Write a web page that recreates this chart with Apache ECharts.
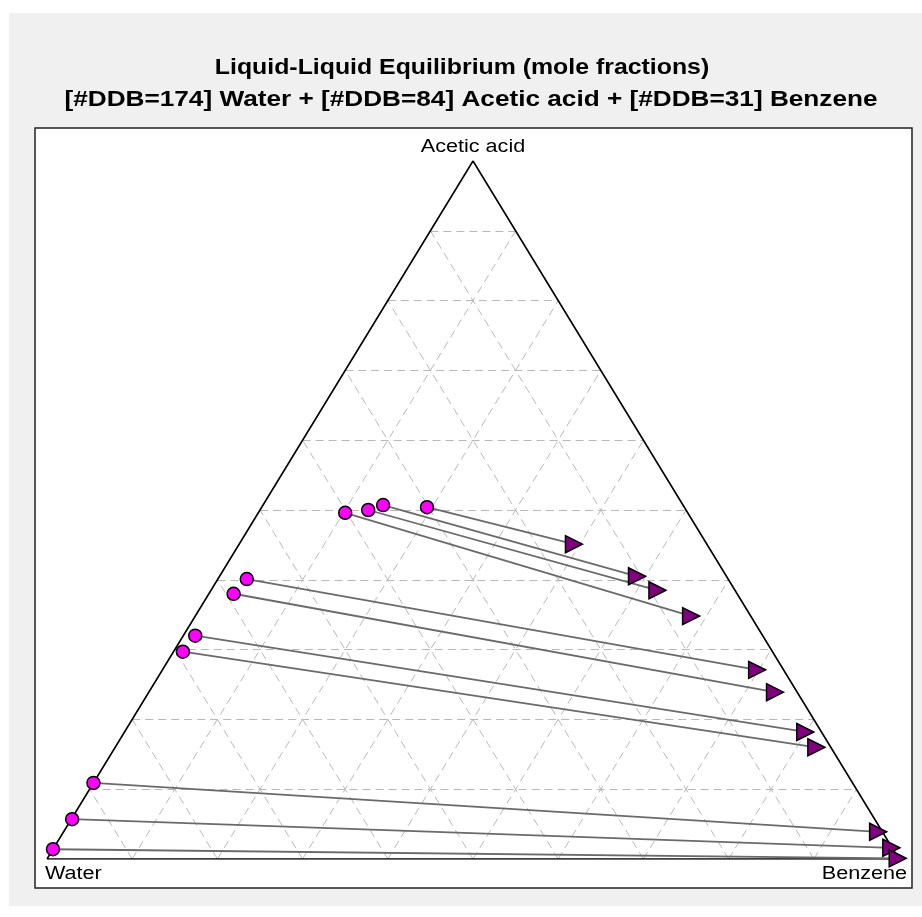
<!DOCTYPE html>
<html>
<head>
<meta charset="utf-8">
<script src="https://cdn.jsdelivr.net/npm/echarts@6/dist/echarts.min.js"></script>
<style>
  html, body { margin: 0; padding: 0; background: #ffffff; }
  #chart { width: 922px; height: 917px; }
</style>
</head>
<body>
<div id="chart"></div>
<script>
// Title lines and component names at the triangle corners
const titleLines = [
  'Liquid-Liquid Equilibrium (mole fractions)',
  '[#DDB=174] Water + [#DDB=84] Acetic acid + [#DDB=31] Benzene'
];
const componentNames = ['Water', 'Acetic acid', 'Benzene'];

// Water-rich phase (mole fractions of acetic acid and benzene)
const aqAcid    = [0.496, 0.500, 0.507, 0.504, 0.401, 0.380, 0.320, 0.297, 0.109, 0.057, 0.014];
const aqBenzene = [0.102, 0.127, 0.141, 0.194, 0.034, 0.029, 0.014, 0.011, 0.000, 0.001, 0.000];

// Benzene-rich phase (mole fractions of acetic acid and benzene)
const orgAcid    = [0.348, 0.385, 0.405, 0.451, 0.271, 0.239, 0.182, 0.160, 0.039, 0.016, 0.001];
const orgBenzene = [0.582, 0.524, 0.490, 0.393, 0.698, 0.735, 0.799, 0.823, 0.956, 0.983, 0.998];

// Grid fractions drawn inside the triangle
const gridFractions = [0.1, 0.2, 0.3, 0.4, 0.5, 0.6, 0.7, 0.8, 0.9];

// Ternary -> cartesian (Water at origin, Benzene at x=1, Acetic acid at apex)
function toXY(acid, benzene) {
  return [benzene + acid / 2, acid];
}

// Dashed grid lines parallel to each side
const gridSegments = [];
gridFractions.forEach(function (f) {
  // constant acetic acid
  gridSegments.push({ coords: [toXY(f, 0), toXY(f, 1 - f)] });
  // constant benzene
  gridSegments.push({ coords: [toXY(0, f), toXY(1 - f, f)] });
  // constant water
  gridSegments.push({ coords: [toXY(0, 1 - f), toXY(1 - f, 0)] });
});

const outline = [toXY(0, 0), toXY(0, 1), toXY(1, 0), toXY(0, 0)];

const tieLines = aqAcid.map(function (a, i) {
  return { coords: [toXY(a, aqBenzene[i]), toXY(orgAcid[i], orgBenzene[i])] };
});
const aqPoints = aqAcid.map(function (a, i) { return toXY(a, aqBenzene[i]); });
const orgPoints = orgAcid.map(function (a, i) { return toXY(a, orgBenzene[i]); });

const chart = echarts.init(document.getElementById('chart'), null, { renderer: 'canvas' });

const labelFont = '18px "Liberation Sans", Arial, sans-serif';
const titleFont = 'bold 22px "Liberation Sans", Arial, sans-serif';

chart.setOption({
  animation: false,
  backgroundColor: '#ffffff',
  graphic: [
    { type: 'rect', z: -20, shape: { x: 9, y: 13, width: 913, height: 893 }, style: { fill: '#f0f0f0' }, silent: true },
    { type: 'rect', z: -19, shape: { x: 35, y: 128, width: 877, height: 760 }, style: { fill: '#ffffff', stroke: '#202020', lineWidth: 1.5 }, silent: true },
    { type: 'text', z: 10, x: 462, y: 68, scaleX: 1.13, style: { text: titleLines[0], font: titleFont, fill: '#000', textAlign: 'center', textVerticalAlign: 'middle' } },
    { type: 'text', z: 10, x: 471, y: 100, scaleX: 1.19, style: { text: titleLines[1], font: titleFont, fill: '#000', textAlign: 'center', textVerticalAlign: 'middle' } },
    { type: 'text', z: 10, x: 473, y: 147, scaleX: 1.2, style: { text: componentNames[1], font: labelFont, fill: '#000', textAlign: 'center', textVerticalAlign: 'middle' } },
    { type: 'text', z: 10, x: 45, y: 874, scaleX: 1.2, style: { text: componentNames[0], font: labelFont, fill: '#000', textAlign: 'left', textVerticalAlign: 'middle' } },
    { type: 'text', z: 10, x: 907, y: 874, scaleX: 1.2, style: { text: componentNames[2], font: labelFont, fill: '#000', textAlign: 'right', textVerticalAlign: 'middle' } }
  ],
  grid: { left: 47, right: 23, top: 161, bottom: 58, containLabel: false },
  xAxis: { type: 'value', min: 0, max: 1, show: false },
  yAxis: { type: 'value', min: 0, max: 1, show: false },
  series: [
    {
      type: 'lines', coordinateSystem: 'cartesian2d', silent: true, z: 1,
      data: gridSegments,
      lineStyle: { color: '#b8b8b8', width: 1, type: [8, 5], opacity: 1 }
    },
    {
      type: 'line', silent: true, z: 2, data: outline, showSymbol: false,
      lineStyle: { color: '#000000', width: 1.6 }
    },
    {
      type: 'lines', coordinateSystem: 'cartesian2d', silent: true, z: 3,
      data: tieLines,
      lineStyle: { color: '#6a6a6a', width: 1.8, opacity: 1 }
    },
    {
      type: 'scatter', silent: true, z: 4, data: aqPoints,
      symbol: 'circle', symbolSize: 13,
      itemStyle: { color: '#ff00ff', borderColor: '#000000', borderWidth: 1.5, opacity: 1 }
    },
    {
      type: 'scatter', silent: true, z: 5, data: orgPoints,
      symbol: 'triangle', symbolSize: 17, symbolRotate: -90,
      itemStyle: { color: '#800080', borderColor: '#000000', borderWidth: 1.5, opacity: 1 }
    }
  ]
});
</script>
</body>
</html>
